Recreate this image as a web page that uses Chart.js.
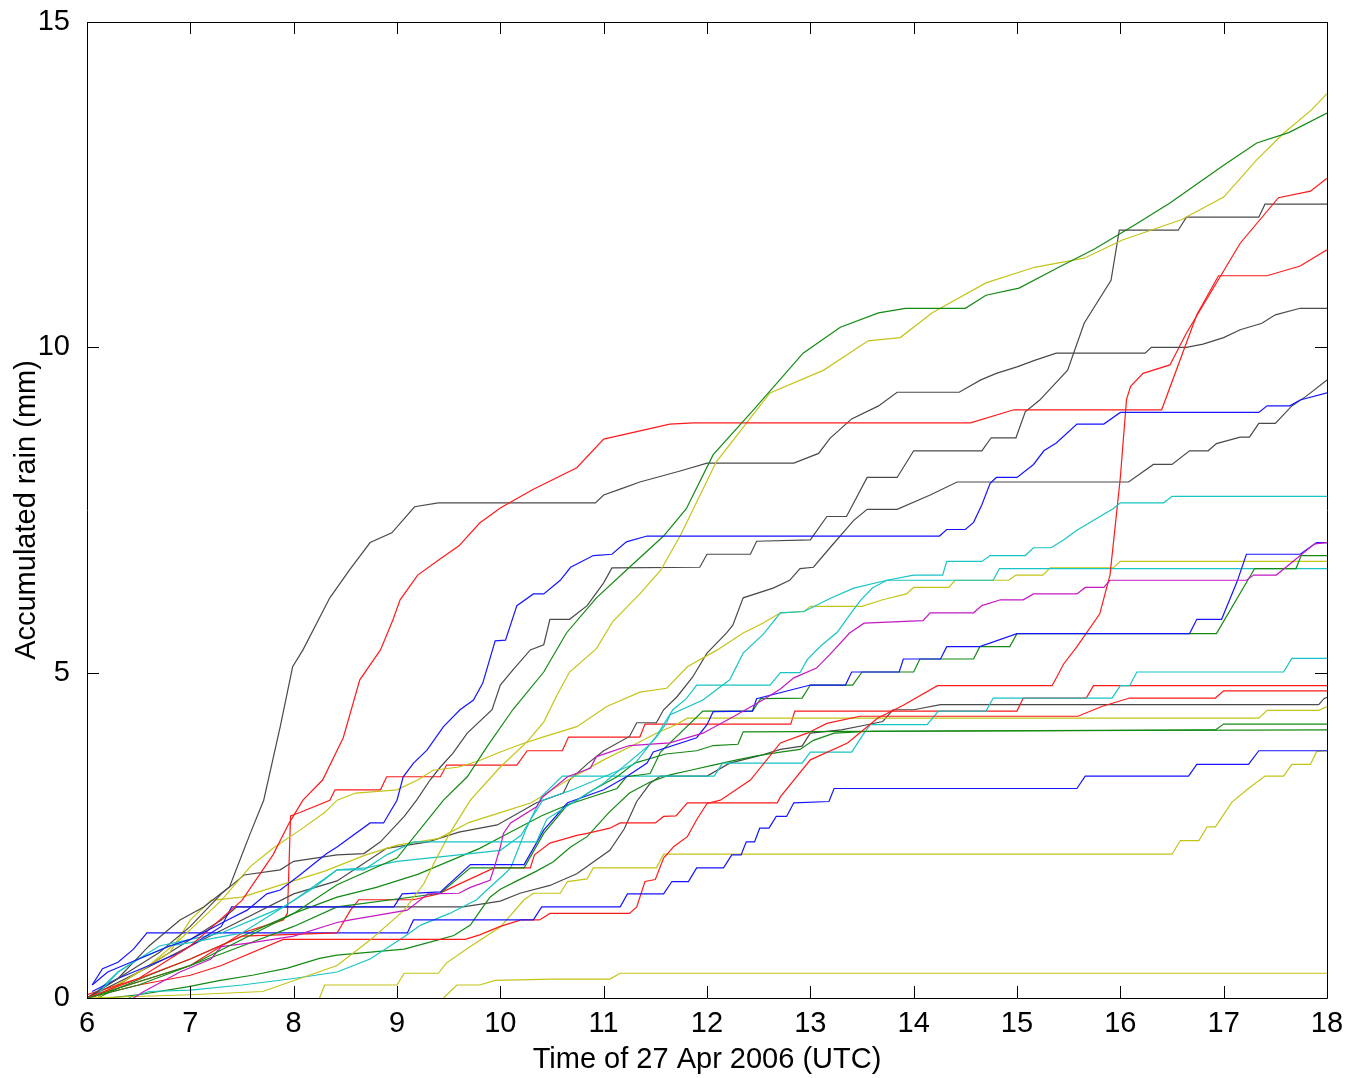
<!DOCTYPE html>
<html>
<head>
<meta charset="utf-8">
<title>Accumulated rain</title>
<script src="https://cdn.jsdelivr.net/npm/chart.js@4.4.1/dist/chart.umd.min.js"></script>
<style>
  html, body { margin: 0; padding: 0; background: #fff; }
  canvas { display: block; }
</style>
</head>
<body>
<canvas id="rainChart" width="1348" height="1078"></canvas>
<script>
// accumulated rain per gauge, [hour UTC, mm]

const xTicks = [6, 7, 8, 9, 10, 11, 12, 13, 14, 15, 16, 17, 18];
const yTicks = [0, 5, 10, 15];

const grayA = [[6,0],[6.3,0.3],[6.6,0.8],[6.9,1.2],[7.13,1.4],[7.38,1.71],[7.48,2.12],[7.58,2.53],[7.71,3.04],[7.87,4.17],[7.99,5.09],[8.09,5.35],[8.35,6.15],[8.55,6.6],[8.74,7.0],[8.95,7.15],[9.17,7.55],[9.4,7.61],[10.92,7.61],[11.0,7.73],[11.16,7.82],[11.35,7.93],[11.51,8.0],[11.74,8.1],[12.0,8.22],[12.84,8.22],[13.08,8.37],[13.19,8.6],[13.4,8.9],[13.66,9.1],[13.84,9.31],[14.44,9.31],[14.65,9.5],[14.8,9.6],[15.0,9.7],[15.17,9.8],[15.38,9.91],[16.24,9.91],[16.3,10.0],[16.64,10.0],[16.8,10.05],[17.0,10.15],[17.16,10.27],[17.37,10.37],[17.5,10.5],[17.74,10.6],[18,10.6]];
const grayD = [[6,0],[6.3,0.3],[6.7,0.7],[7.0,1.1],[7.3,1.6],[7.52,1.89],[7.87,1.97],[8.0,2.1],[8.42,2.2],[8.68,2.22],[8.84,2.4],[9.07,2.79],[9.19,3.04],[9.32,3.35],[9.42,3.55],[9.54,3.76],[9.68,4.07],[9.92,4.43],[10.0,4.81],[10.12,5.04],[10.29,5.35],[10.42,5.43],[10.48,5.82],[10.67,5.82],[10.84,6.03],[11.0,6.38],[11.08,6.61],[11.93,6.62],[12.0,6.82],[12.42,6.82],[12.48,7.02],[13.0,7.04],[13.16,7.4],[13.35,7.4],[13.55,8.0],[13.84,8.0],[14.0,8.41],[14.66,8.41],[14.75,8.61],[14.99,8.61],[15.08,9.01],[15.22,9.19],[15.49,9.65],[15.65,10.37],[15.91,11.03],[15.99,11.8],[16.56,11.8],[16.64,12.0],[17.34,12.0],[17.4,12.2],[18,12.2]];
const grayE = [[6,0],[6.5,0.4],[7,0.8],[7.5,1.2],[8.0,1.6],[8.42,1.8],[8.9,2.3],[9.3,2.4],[9.6,2.55],[9.97,2.66],[10.35,3.0],[10.61,3.15],[10.67,3.35],[10.85,3.61],[11.0,3.8],[11.25,4.02],[11.32,4.23],[11.51,4.23],[11.58,4.43],[11.71,4.63],[11.86,4.93],[12.0,5.3],[12.19,5.61],[12.25,5.73],[12.35,6.15],[12.64,6.3],[12.8,6.42],[12.9,6.6],[13.03,6.62],[13.19,6.92],[13.42,7.34],[13.55,7.51],[13.84,7.51],[14.16,7.73],[14.42,7.93],[16.08,7.93],[16.32,8.2],[16.5,8.2],[16.67,8.41],[16.85,8.41],[16.93,8.52],[17.16,8.62],[17.25,8.62],[17.34,8.83],[17.5,8.83],[17.66,9.1],[17.8,9.25],[18,9.5]];
const grayF = [[6.1,0],[6.3,0.2],[6.6,0.5],[6.9,0.8],[7.1,1.0],[7.3,1.2],[7.45,1.4],[9.64,1.4],[10.0,1.49],[10.19,1.61],[10.48,1.73],[10.74,1.91],[11.06,2.27],[11.2,2.6],[11.32,3.02],[11.45,3.3],[11.55,3.41],[12.0,3.41],[12.22,3.61],[12.5,3.72],[12.71,3.82],[12.92,3.87],[13.0,4.07],[13.3,4.12],[13.55,4.2],[13.7,4.25],[13.8,4.43],[14.0,4.43],[14.26,4.51],[17.92,4.51],[17.97,4.6],[18,4.62]];

const redB = [[6,0],[6.5,0.3],[7,0.8],[7.5,1.5],[7.8,2.2],[7.96,2.7],[8.09,3.04],[8.28,3.35],[8.48,4.0],[8.64,4.89],[8.84,5.35],[8.96,5.81],[9.03,6.12],[9.2,6.5],[9.42,6.75],[9.6,6.95],[9.8,7.3],[10.0,7.53],[10.32,7.82],[10.74,8.15],[11.0,8.59],[11.64,8.82],[11.87,8.84],[14.55,8.84],[14.97,9.04],[16.4,9.04],[16.74,10.5],[16.95,11.1],[17.42,11.1],[17.74,11.25],[18,11.5]];
const redF = [[6,0.05],[6.5,0.3],[7,0.6],[7.5,0.95],[8.42,1.0],[8.55,1.35],[8.63,1.51],[9.16,1.51],[9.4,1.6],[9.6,1.75],[9.94,2.0],[10.29,2.0],[10.33,2.2],[10.48,2.38],[10.74,2.5],[10.84,2.53],[11.06,2.61],[11.16,2.69],[11.5,2.69],[11.58,2.79],[11.7,2.8],[11.81,3.0],[12.68,3.0],[12.71,3.09],[13.0,3.66],[13.36,3.92],[13.65,4.3],[13.9,4.5],[14.23,4.8],[15.34,4.8],[15.45,5.13],[15.58,5.4],[15.8,5.9],[15.9,6.5],[16.0,8.0],[16.06,9.2],[16.1,9.4],[16.22,9.6],[16.48,9.73],[16.64,10.22],[17.16,11.6],[17.53,12.3],[17.84,12.4],[18,12.6]];
const redC = [[6,0],[6.5,0.2],[7,0.35],[7.3,0.5],[7.9,0.9],[9.66,0.9],[9.8,0.97],[10.0,1.1],[10.2,1.2],[10.38,1.2],[10.48,1.3],[11.25,1.3],[11.32,1.4],[11.4,1.79],[11.5,1.82],[11.58,2.15],[11.68,2.33],[11.81,2.48],[11.9,2.74],[12.0,2.99],[12.13,3.04],[12.42,3.35],[12.71,3.92],[12.97,4.07],[13.16,4.22],[13.48,4.33],[15.59,4.33],[15.82,4.48],[16.09,4.61],[16.92,4.61],[17.0,4.72],[18,4.72]];
const redD = [[6,0],[6.5,0.25],[7,0.5],[7.5,1.0],[7.9,1.2],[7.94,1.3],[7.97,2.8],[8.06,2.85],[8.35,3.04],[8.4,3.2],[8.84,3.2],[8.9,3.4],[9.42,3.4],[9.48,3.58],[10.16,3.58],[10.26,3.8],[10.6,3.8],[10.66,4.01],[11.35,4.01],[11.4,4.21],[12.81,4.21],[12.85,4.41],[15.0,4.41],[15.06,4.61],[15.67,4.61],[15.74,4.8],[18,4.8]];

const blueA = [[6.05,0.2],[6.2,0.4],[6.5,0.6],[6.8,0.8],[7.0,0.9],[7.36,1.2],[7.55,1.35],[7.74,1.6],[7.87,1.66],[8.06,1.89],[8.32,2.22],[8.42,2.32],[8.74,2.69],[8.87,2.69],[9.0,3.04],[9.06,3.4],[9.16,3.61],[9.29,3.81],[9.45,4.17],[9.61,4.43],[9.74,4.58],[9.83,4.84],[9.95,5.49],[10.05,5.5],[10.16,6.03],[10.32,6.21],[10.42,6.21],[10.58,6.42],[10.68,6.62],[10.9,6.8],[11.08,6.82],[11.22,7.01],[11.42,7.1],[14.25,7.1],[14.32,7.2],[14.5,7.2],[14.58,7.31],[14.66,7.58],[14.74,7.91],[14.8,8.0],[15.0,8.0],[15.16,8.2],[15.26,8.41],[15.38,8.53],[15.58,8.82],[15.84,8.82],[16.0,9.0],[17.34,9.0],[17.42,9.1],[17.64,9.1],[17.74,9.19],[18,9.3]];
const blueB = [[6.05,0.1],[6.3,0.3],[6.6,0.5],[6.9,0.7],[7.1,0.9],[7.3,1.1],[7.4,1.4],[8.97,1.4],[9.05,1.6],[9.42,1.63],[9.71,2.05],[10.23,2.05],[10.42,2.58],[10.65,3.0],[11.0,3.2],[11.22,3.4],[11.42,3.61],[11.48,3.78],[11.9,4.0],[12.0,4.2],[12.06,4.4],[12.44,4.41],[12.48,4.6],[13.0,4.81],[13.34,4.81],[13.4,5.01],[13.86,5.01],[13.9,5.21],[14.26,5.21],[14.32,5.4],[14.64,5.4],[15.0,5.6],[16.67,5.6],[16.74,5.82],[16.98,5.82],[17.13,6.4],[17.22,6.82],[17.74,6.82],[17.9,7.0],[18,7.0]];
const blueC = [[6.05,0.2],[6.15,0.45],[6.3,0.55],[6.45,0.75],[6.58,1.0],[9.1,1.0],[9.16,1.2],[10.32,1.2],[10.4,1.4],[11.16,1.4],[11.23,1.6],[11.58,1.6],[11.66,1.79],[11.82,1.79],[11.9,2.0],[12.16,2.0],[12.24,2.2],[12.33,2.2],[12.38,2.4],[12.46,2.4],[12.51,2.61],[12.6,2.61],[12.67,2.79],[12.77,2.79],[12.84,3.0],[13.18,3.02],[13.23,3.22],[15.58,3.22],[15.66,3.41],[16.66,3.41],[16.74,3.59],[17.24,3.59],[17.34,3.8],[18,3.8]];

const greenA = [[6,0],[6.5,0.2],[7,0.5],[7.5,0.9],[8,1.3],[8.42,1.74],[9.0,2.15],[9.45,3.04],[9.68,3.4],[9.87,3.86],[10.12,4.43],[10.42,5.01],[10.64,5.61],[10.93,6.15],[11.25,6.62],[11.58,7.1],[11.8,7.52],[12.06,8.35],[12.45,9.04],[12.93,9.91],[13.29,10.31],[13.66,10.53],[13.92,10.6],[14.5,10.6],[14.7,10.8],[15.02,10.91],[15.39,11.22],[15.75,11.51],[16.17,11.91],[16.48,12.22],[17.0,12.8],[17.32,13.14],[17.63,13.3],[18,13.6]];
const greenB = [[6,0],[6.4,0.2],[7,0.5],[7.5,0.8],[8,1.1],[8.42,1.4],[9.42,1.61],[9.71,2.0],[10.23,2.0],[10.42,2.53],[10.65,2.97],[11.13,3.22],[11.22,3.4],[11.45,3.45],[11.55,3.78],[11.96,4.41],[12.44,4.41],[12.52,4.6],[12.92,4.61],[13.0,4.81],[13.41,4.81],[13.5,5.01],[14.0,5.01],[14.06,5.21],[14.58,5.21],[14.64,5.4],[14.93,5.4],[15.0,5.6],[16.93,5.6],[17.3,6.6],[17.7,6.6],[17.75,6.8],[18,6.8]];
const greenC = [[6.1,0],[6.3,0.15],[6.6,0.35],[7.0,0.6],[7.5,0.95],[8.0,1.3],[8.42,1.55],[8.8,1.7],[9.2,1.9],[9.5,2.1],[9.8,2.3],[10.1,2.55],[10.4,2.8],[10.7,3.0],[10.9,3.2],[11.13,3.4],[11.3,3.61],[11.6,3.75],[11.9,3.8],[12.06,3.88],[12.3,3.9],[12.35,4.09],[16.92,4.12],[17.0,4.21],[18,4.21]];
const greenD = [[6.2,0],[6.5,0.05],[6.97,0.17],[7.29,0.27],[7.6,0.35],[7.94,0.46],[8.25,0.61],[8.42,0.66],[9.07,0.75],[9.39,0.89],[9.55,0.96],[9.71,1.12],[9.81,1.35],[9.9,1.55],[10.0,1.67],[10.16,1.8],[10.35,1.95],[10.51,2.09],[10.68,2.32],[10.84,2.48],[11.05,2.85],[11.25,3.15],[11.45,3.32],[11.64,3.43],[11.84,3.5],[12.06,3.58],[12.29,3.66],[12.48,3.72],[12.71,3.78],[12.9,3.82],[13.03,3.96],[13.23,4.07],[13.6,4.1],[18,4.12]];

const cyanA = [[6.1,0.05],[6.3,0.4],[6.5,0.6],[6.8,0.8],[7.0,0.85],[7.5,1.0],[8.0,1.5],[8.42,1.97],[8.68,1.97],[8.9,2.2],[9.16,2.4],[10.35,2.4],[10.45,2.75],[10.6,2.9],[11.0,3.3],[11.42,3.86],[11.51,4.01],[11.61,4.23],[11.64,4.35],[11.96,4.58],[12.22,4.89],[12.35,5.3],[12.55,5.6],[12.71,5.92],[12.94,5.94],[13.19,6.14],[13.42,6.3],[13.74,6.42],[14.0,6.5],[14.28,6.5],[14.32,6.71],[14.66,6.71],[14.74,6.8],[15.08,6.8],[15.16,6.92],[15.33,6.92],[15.45,7.04],[15.58,7.19],[15.77,7.37],[15.93,7.52],[16.0,7.61],[16.42,7.61],[16.5,7.71],[18,7.71]];
const cyanB = [[6.1,0.1],[6.3,0.4],[6.5,0.6],[6.7,0.8],[7.0,0.9],[7.3,1.0],[7.6,1.2],[7.9,1.4],[8.2,1.7],[8.42,1.97],[8.7,2.0],[9.0,2.1],[9.3,2.15],[9.6,2.2],[10.0,2.27],[10.2,2.5],[10.41,3.04],[10.7,3.2],[11.0,3.4],[11.3,3.6],[11.5,4.0],[11.67,4.43],[11.8,4.6],[11.9,4.81],[12.61,4.81],[12.71,5.0],[12.9,5.0],[12.97,5.2],[13.1,5.41],[13.26,5.62],[13.4,5.93],[13.49,6.12],[13.6,6.3],[13.74,6.42],[14.77,6.42],[14.83,6.6],[18,6.6]];
const cyanC = [[6.4,0],[6.6,0.1],[7.0,0.12],[7.5,0.2],[8.0,0.3],[8.42,0.4],[8.74,0.6],[9.07,0.94],[9.23,1.12],[9.51,1.3],[9.77,1.51],[9.87,1.66],[10.03,1.89],[10.1,2.0],[10.25,2.6],[10.4,3.1],[10.6,3.41],[12.07,3.41],[12.15,3.61],[12.92,3.61],[13.0,3.78],[13.4,3.78],[13.52,4.07],[13.58,4.2],[14.13,4.2],[14.24,4.41],[14.7,4.41],[14.77,4.61],[15.92,4.61],[16.0,4.8],[16.09,4.8],[16.16,5.01],[17.58,5.01],[17.66,5.22],[18,5.22]];

const magentaA = [[6.45,0],[6.55,0.1],[6.9,0.4],[7.2,0.6],[7.3,0.79],[7.6,0.85],[8.0,0.95],[8.42,1.16],[8.55,1.2],[9.1,1.35],[9.3,1.6],[9.6,1.61],[9.71,1.7],[9.9,1.81],[9.94,2.0],[10.0,2.32],[10.03,2.53],[10.1,2.69],[10.35,2.94],[10.41,3.09],[10.65,3.4],[10.87,3.53],[10.93,3.71],[11.25,3.88],[11.64,3.92],[11.96,4.07],[12.25,4.32],[12.54,4.58],[12.71,4.75],[12.84,4.92],[13.06,5.07],[13.19,5.28],[13.38,5.61],[13.52,5.76],[14.09,5.8],[14.16,5.92],[14.58,5.92],[14.66,6.03],[14.84,6.12],[15.06,6.12],[15.16,6.21],[15.58,6.21],[15.66,6.31],[15.84,6.31],[15.9,6.42],[17.22,6.42],[17.29,6.5],[17.51,6.5],[17.88,6.98],[18,7.0]];

const yellowA = [[6,0],[7,0.05],[7.7,0.1],[8.42,0.5],[8.74,0.89],[9.07,1.35],[9.26,1.76],[9.39,2.17],[9.51,2.53],[9.71,3.04],[10.0,3.55],[10.26,3.94],[10.42,4.24],[10.55,4.66],[10.67,5.01],[10.93,5.37],[11.09,5.79],[11.35,6.21],[11.55,6.57],[11.74,7.1],[12.09,8.24],[12.38,8.83],[12.61,9.3],[13.13,9.65],[13.56,10.1],[13.87,10.15],[14.18,10.53],[14.7,10.99],[15.17,11.23],[15.65,11.37],[16.02,11.65],[16.59,11.96],[17.0,12.31],[17.32,12.88],[17.58,13.29],[17.85,13.65],[18,13.9]];
const yellowB = [[6.1,0],[6.3,0.2],[6.6,0.5],[6.9,0.9],[7.1,1.2],[7.3,1.5],[7.58,2.02],[7.8,2.3],[8.06,2.58],[8.3,2.85],[8.42,3.04],[8.6,3.15],[9.0,3.2],[9.2,3.35],[9.35,3.5],[9.6,3.55],[9.8,3.65],[10.0,3.78],[10.2,3.9],[10.41,4.01],[10.74,4.17],[11.03,4.48],[11.35,4.7],[11.61,4.76],[11.81,5.09],[12.1,5.35],[12.35,5.61],[12.54,5.76],[12.71,5.92],[12.94,5.94],[13.0,6.02],[13.5,6.02],[13.7,6.12],[13.93,6.21],[14.0,6.31],[14.34,6.31],[14.4,6.42],[14.92,6.42],[14.99,6.5],[15.25,6.5],[15.32,6.61],[15.93,6.61],[16.0,6.71],[18,6.71]];
const yellowC = [[6.05,0],[6.4,0.3],[6.8,0.7],[7.0,1.2],[7.2,1.5],[7.5,1.55],[7.9,1.75],[8.3,1.95],[8.7,2.2],[9.0,2.35],[9.4,2.45],[9.7,2.7],[10.0,2.85],[10.3,3.0],[10.6,3.3],[11.0,3.66],[11.28,3.88],[11.51,4.07],[11.7,4.2],[11.81,4.3],[17.34,4.3],[17.42,4.42],[17.92,4.42],[18,4.48]];
const yellowD = [[8.25,0],[8.3,0.2],[9.0,0.2],[9.07,0.38],[9.4,0.38],[9.48,0.54],[9.71,0.79],[10.0,1.09],[10.23,1.51],[10.32,1.61],[10.58,1.61],[10.65,1.79],[10.84,1.83],[10.9,2.0],[11.51,2.0],[11.58,2.21],[16.5,2.21],[16.58,2.42],[16.76,2.42],[16.84,2.63],[16.92,2.63],[17.08,3.01],[17.24,3.22],[17.4,3.41],[17.58,3.41],[17.66,3.59],[17.84,3.59],[17.9,3.79],[18,3.8]];
const yellowE = [[9.45,0],[9.58,0.2],[9.8,0.2],[9.95,0.27],[10.5,0.29],[11.06,0.29],[11.16,0.38],[18,0.38]];

// matlab line colours
const BLUE = '#1515ff', GREEN = '#138a13', RED = '#ff1a1a', CYAN = '#18c4c4',
      MAGENTA = '#c418c4', YELLOW = '#c4c418', GRAY = '#4a4a4a';

const gauges = [
    { data: blueA, color: BLUE }, { data: greenA, color: GREEN }, { data: redB, color: RED },
    { data: cyanA, color: CYAN }, { data: magentaA, color: MAGENTA }, { data: yellowA, color: YELLOW },
    { data: grayA, color: GRAY }, { data: blueB, color: BLUE }, { data: greenB, color: GREEN },
    { data: redF, color: RED }, { data: cyanB, color: CYAN }, { data: yellowB, color: YELLOW },
    { data: grayD, color: GRAY }, { data: blueC, color: BLUE }, { data: greenC, color: GREEN },
    { data: redC, color: RED }, { data: cyanC, color: CYAN }, { data: yellowC, color: YELLOW },
    { data: grayE, color: GRAY }, { data: greenD, color: GREEN }, { data: redD, color: RED },
    { data: yellowD, color: YELLOW }, { data: grayF, color: GRAY }, { data: yellowE, color: YELLOW }
];

const FONT = { family: "'Liberation Sans', Arial, sans-serif", size: 29 };

// box round the axes + inward ticks on all four sides
const boxTicks = {
    id: 'boxTicks',
    afterDraw(chart) {
        const { ctx, chartArea: a, scales: { x, y } } = chart;
        const len = 12;
        ctx.save();
        ctx.strokeStyle = '#000';
        ctx.lineWidth = 1;
        ctx.beginPath();
        ctx.rect(a.left + 0.5, a.top + 0.5, a.right - a.left, a.bottom - a.top);
        x.ticks.forEach(t => {
            const px = Math.round(x.getPixelForValue(t.value)) + 0.5;
            ctx.moveTo(px, a.bottom); ctx.lineTo(px, a.bottom - len);
            ctx.moveTo(px, a.top); ctx.lineTo(px, a.top + len);
        });
        y.ticks.forEach(t => {
            const py = Math.round(y.getPixelForValue(t.value)) + 0.5;
            ctx.moveTo(a.left, py); ctx.lineTo(a.left + len, py);
            ctx.moveTo(a.right, py); ctx.lineTo(a.right - len, py);
        });
        ctx.stroke();
        ctx.restore();
    }
};

new Chart(document.getElementById('rainChart'), {
    type: 'line',
    data: {
        datasets: gauges.map(g => ({
            data: g.data.map(([h, mm]) => ({ x: h, y: mm })),
            borderColor: g.color,
            borderWidth: 1.2,
            pointRadius: 0,
            tension: 0,
            fill: false
        }))
    },
    options: {
        responsive: false,
        animation: false,
        devicePixelRatio: 1,
        layout: { padding: { left: 0, right: 21, top: 22, bottom: 0 } },
        plugins: { legend: { display: false }, tooltip: { enabled: false } },
        scales: {
            x: {
                type: 'linear',
                min: 6, max: 18,
                afterFit(scale) {
                    scale.height = 80;
                    scale.paddingLeft = 0;
                    scale.paddingRight = 0;
                },
                afterBuildTicks(scale) { scale.ticks = xTicks.map(v => ({ value: v })); },
                grid: { display: false },
                border: { display: false },
                ticks: { color: '#000', font: FONT, padding: 1, maxRotation: 0 },
                title: {
                    display: true,
                    text: 'Time of 27 Apr 2006 (UTC)',
                    color: '#000',
                    font: FONT,
                    padding: { top: 0, bottom: 1 }
                }
            },
            y: {
                min: 0, max: 15,
                afterFit(scale) {
                    scale.width = 87;
                    scale.paddingTop = 0;
                    scale.paddingBottom = 0;
                },
                afterBuildTicks(scale) { scale.ticks = yTicks.map(v => ({ value: v })); },
                grid: { display: false },
                border: { display: false },
                ticks: { color: '#000', font: FONT, padding: 9 },
                title: {
                    display: true,
                    text: 'Accumulated rain (mm)',
                    color: '#000',
                    font: FONT,
                    padding: { top: 10, bottom: 0 }
                }
            }
        }
    },
    plugins: [boxTicks]
});
</script>
</body>
</html>
